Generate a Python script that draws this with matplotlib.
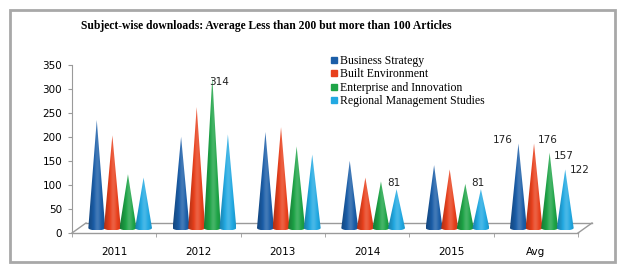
import matplotlib
matplotlib.use('Agg')
import matplotlib.pyplot as plt
import matplotlib.transforms as mtransforms
from matplotlib.patches import Polygon, Rectangle
from matplotlib.lines import Line2D
from matplotlib.colors import to_rgb
import numpy as np

# data
categories = ['2011', '2012', '2013', '2014', '2015', 'Avg']
series = ['Business Strategy', 'Built Environment',
          'Enterprise and Innovation', 'Regional Management Studies']
business = [225, 190, 200, 140, 131, 176]
built = [193, 252, 210, 105, 122, 176]
enterprise = [112, 314, 170, 97, 92, 157]
regional = [105, 195, 153, 81, 81, 122]
values = [business, built, enterprise, regional]
colors = ['#1b5ea8', '#e8401c', '#1ea447', '#22a9e2']

# which cones carry a value label: (category index, series index, dx pt, dy pt, ha)
labelled = [(1, 2, -2, -7, 'left'), (3, 3, -2, 1, 'center'), (4, 3, -2, 1, 'center'),
            (5, 0, -4, -1, 'right'), (5, 1, 3, -1, 'left'),
            (5, 2, 3, -6, 'left'), (5, 3, 3, -4, 'left')]


def shade(c, t):
    """t<0 darkens, t>0 lightens"""
    c = np.array(to_rgb(c))
    if t < 0:
        return c * (1 + t)
    return c + (1 - c) * t


def cone_image(c):
    xs = np.linspace(0, 1, 40)
    t = 0.2 * np.exp(-((xs - 0.55) / 0.2) ** 2) - 0.25 * (1 - xs) ** 3 - 0.1 * xs ** 4
    row = np.array([shade(c, v) for v in t])
    return np.clip(np.tile(row, (2, 1, 1)), 0, 1)


fig = plt.figure(figsize=(6.25, 2.72), dpi=100)
ax = fig.add_axes([0.1152, 0.1434, 0.8096, 0.6176])
ax.set_xlim(0, 6)
ax.set_ylim(0, 350)

depth = mtransforms.ScaledTranslation(14 / 100, 10 / 100, fig.dpi_scale_trans)
mid = mtransforms.ScaledTranslation(6 / 100, 5 / 100, fig.dpi_scale_trans)

# 3D floor
gc = '#9a9a9a'
ax.plot([0, 6], [0, 0], color=gc, lw=1, clip_on=False)
ax.plot([0, 6], [0, 0], color=gc, lw=1, clip_on=False, transform=ax.transData + depth)
for xe in (0, 6):
    p0 = ax.transData.transform((xe, 0))
    p1 = (ax.transData + depth).transform((xe, 0))
    ax.plot([p0[0], p1[0]], [p0[1], p1[1]], color=gc, lw=1, clip_on=False,
            transform=None)

width = 0.2
step = 0.185
base_h = 5  # half-ellipse depth of the cone base, in data units
tr = ax.transData + mid
ang = np.linspace(0, np.pi, 16)
for j, vals in enumerate(values):
    img = cone_image(colors[j])
    for i, v in enumerate(vals):
        x = i + 0.5 + (j - 1.5) * step
        rim = [(x + width / 2 * np.cos(a), -base_h * np.sin(a)) for a in ang]
        pts = [(x, v)] + rim
        poly = Polygon(pts, closed=True, transform=tr, facecolor='none', edgecolor='none')
        ax.add_patch(poly)
        im = ax.imshow(img, extent=[x - width / 2, x + width / 2, -base_h, v],
                       aspect='auto', interpolation='bilinear', zorder=3)
        im.set_transform(tr)
        im.set_clip_path(poly)

for i, j, dx, dy, ha in labelled:
    x = i + 0.5 + (j - 1.5) * step
    v = values[j][i]
    ax.annotate(str(v), (x, v), xycoords=tr, xytext=(dx, dy), textcoords='offset points',
                ha=ha, va='bottom', fontsize=7.5, color='#222222',
                family='DejaVu Sans', zorder=5)

ax.set_xlim(0, 6)
ax.set_ylim(0, 350)
ax.set_yticks(range(0, 351, 50))
ax.set_xticks(np.arange(6) + 0.5)
ax.set_xticklabels(categories)
ax.set_xticks(range(7), minor=True)
ax.tick_params(axis='x', which='major', length=0, pad=10, labelsize=7.5)
ax.tick_params(axis='x', which='minor', length=3, color=gc, direction='out')
ax.tick_params(axis='y', length=3, color=gc, labelsize=7.5, pad=4)
for s in ['top', 'right', 'bottom']:
    ax.spines[s].set_visible(False)
ax.spines['left'].set_color(gc)

# legend
handles = [Line2D([], [], marker='s', ls='none', color=c, markersize=4) for c in colors]
fig.legend(handles, series, loc='upper left', bbox_to_anchor=(0.52, 0.82),
           frameon=False, handlelength=0.5, handletextpad=0.3, labelspacing=0.12,
           borderpad=0, prop={'family': 'Liberation Serif', 'size': 8.5})

fig.text(0.426, 0.905, 'Subject-wise downloads: Average Less than 200 but more than 100 Articles',
         ha='center', va='center', fontsize=8.4, fontweight='bold', family='Liberation Serif')

fig.add_artist(Rectangle((0.016, 0.035), 0.968, 0.93, transform=fig.transFigure,
                         fill=False, ec='#a8a8a8', lw=2))

fig.savefig('out.png', dpi=100)
